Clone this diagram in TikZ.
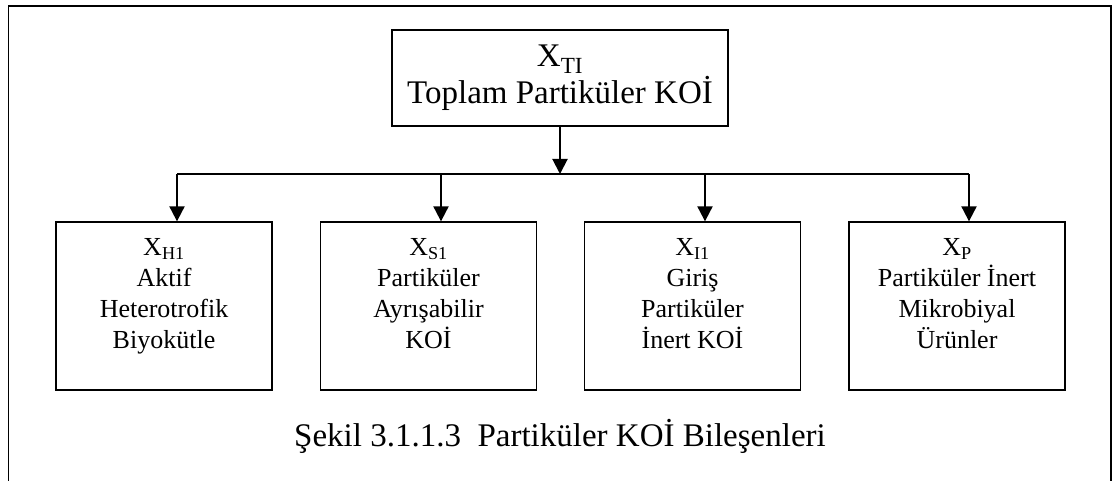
\documentclass[tikz,border=0pt]{standalone}
\usepackage{fontspec}
\setmainfont{Liberation Serif}
\usetikzlibrary{arrows.meta, positioning}

\begin{document}
\begin{tikzpicture}[x=1pt, y=-1pt,
  topbox/.style = {draw, line width=1.3pt, minimum width=336pt, minimum height=96pt, align=center, inner sep=0pt, font=\fontsize{33}{37}\selectfont},
  compbox/.style = {draw, line width=1.3pt, minimum width=216pt, minimum height=168pt, inner sep=0pt},
  comptext/.style = {align=center, inner sep=0pt, font=\fontsize{26}{31}\selectfont},
  arrow/.style = {-{Triangle[width=15pt,length=15pt]}, line width=2pt},
  link/.style = {line width=2pt}
]
\useasboundingbox (0,0) rectangle (1119,481);
% open frame round the figure
\draw[line width=1.3pt] (8.5,481) -- (8.5,6) -- (1111,6) -- (1111,481);

\node[topbox] (xt) at (560,78) {X\textsubscript{TI}\\Toplam Partiküler KOİ};

\node[compbox] (xh) at (164,306) {};
\node[compbox] (xs) at (428.5,306) {};
\node[compbox] (xi) at (692.5,306) {};
\node[compbox] (xp) at (957,306) {};

\node[comptext, below=17pt of xh.north] (xhtext) {X\textsubscript{H1}\\Aktif\\Heterotrofik\\Biyokütle};
\node[comptext, below=17pt of xs.north] (xstext) {X\textsubscript{S1}\\Partiküler\\Ayrışabilir\\KOİ};
\node[comptext, below=17pt of xi.north] (xitext) {X\textsubscript{I1}\\Giriş\\Partiküler\\İnert KOİ};
\node[comptext, below=17pt of xp.north] (xptext) {X\textsubscript{P}\\Partiküler İnert\\Mikrobiyal\\Ürünler};

\node[anchor=base, font=\fontsize{33}{36}\selectfont] (caption) at (560,446) {Şekil 3.1.1.3\ \ Partiküler KOİ Bileşenleri};

% branching bar
\coordinate (b1) at (177,174);
\coordinate (b2) at (441,174);
\coordinate (b3) at (705,174);
\coordinate (b4) at (969,174);
\draw[arrow] (xt.south) -- (xt.south |- b1);
\draw[link] (b1) -- (b4);
\draw[arrow] (b1) -- (b1 |- xh.north);
\draw[arrow] (b2) -- (b2 |- xs.north);
\draw[arrow] (b3) -- (b3 |- xi.north);
\draw[arrow] (b4) -- (b4 |- xp.north);
\end{tikzpicture}
\end{document}
